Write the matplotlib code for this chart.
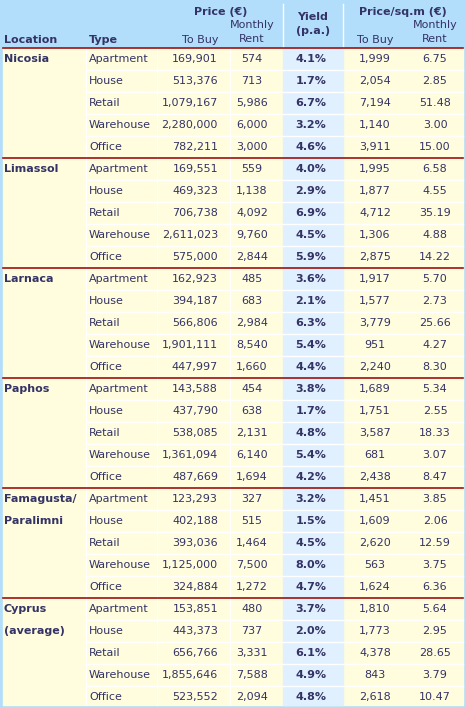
import matplotlib.pyplot as plt
from matplotlib.patches import Rectangle

locations = [["Nicosia"], ["Limassol"], ["Larnaca"], ["Paphos"],
             ["Famagusta/", "Paralimni"], ["Cyprus", "(average)"]]
types = ["Apartment", "House", "Retail", "Warehouse", "Office"]
buy = [[169901, 513376, 1079167, 2280000, 782211],
       [169551, 469323, 706738, 2611023, 575000],
       [162923, 394187, 566806, 1901111, 447997],
       [143588, 437790, 538085, 1361094, 487669],
       [123293, 402188, 393036, 1125000, 324884],
       [153851, 443373, 656766, 1855646, 523552]]
rent = [[574, 713, 5986, 6000, 3000],
        [559, 1138, 4092, 9760, 2844],
        [485, 683, 2984, 8540, 1660],
        [454, 638, 2131, 6140, 1694],
        [327, 515, 1464, 7500, 1272],
        [480, 737, 3331, 7588, 2094]]
yld = [[4.1, 1.7, 6.7, 3.2, 4.6],
       [4.0, 2.9, 6.9, 4.5, 5.9],
       [3.6, 2.1, 6.3, 5.4, 4.4],
       [3.8, 1.7, 4.8, 5.4, 4.2],
       [3.2, 1.5, 4.5, 8.0, 4.7],
       [3.7, 2.0, 6.1, 4.9, 4.8]]
sqm_buy = [[1999, 2054, 7194, 1140, 3911],
           [1995, 1877, 4712, 1306, 2875],
           [1917, 1577, 3779, 951, 2240],
           [1689, 1751, 3587, 681, 2438],
           [1451, 1609, 2620, 563, 1624],
           [1810, 1773, 4378, 843, 2618]]
sqm_rent = [[6.75, 2.85, 51.48, 3.00, 15.00],
            [6.58, 4.55, 35.19, 4.88, 14.22],
            [5.70, 2.73, 25.66, 4.27, 8.30],
            [5.34, 2.55, 18.33, 3.07, 8.47],
            [3.85, 2.06, 12.59, 3.75, 6.36],
            [5.64, 2.95, 28.65, 3.79, 10.47]]

W, H = 466, 708
TXT = "#333366"
BG = "#FFFDDE"
HEAD = "#B3DEFB"
YCOL = "#E1F0FE"
RED = "#A01010"
HH, RH = 48, 22
fs = 8

fig = plt.figure(figsize=(W / 100, H / 100), dpi=100)
ax = fig.add_axes([0, 0, 1, 1])
ax.set_xlim(0, W)
ax.set_ylim(H, 0)
ax.axis("off")

ax.add_patch(Rectangle((0, 0), W, H, color=HEAD))
ax.add_patch(Rectangle((3, HH), W - 6, H - HH - 3, color=BG))
ax.add_patch(Rectangle((283, HH), 60, H - HH - 3, color=YCOL))
ax.plot([283, 283], [4, HH], color="white", lw=1)
ax.plot([343, 343], [4, HH], color="white", lw=1)

# header
hb = dict(color=TXT, fontsize=fs, fontweight="bold")
hn = dict(color=TXT, fontsize=fs)
ax.text(4, 40, "Location", va="center", **hb)
ax.text(89, 40, "Type", va="center", **hb)
ax.text(221, 12, "Price (€)", ha="center", va="center", **hb)
ax.text(218, 40, "To Buy", ha="right", va="center", **hn)
ax.text(252, 25, "Monthly", ha="center", va="center", **hn)
ax.text(252, 39, "Rent", ha="center", va="center", **hn)
ax.text(313, 17, "Yield", ha="center", va="center", **hb)
ax.text(313, 31, "(p.a.)", ha="center", va="center", **hb)
ax.text(403, 12, "Price/sq.m (€)", ha="center", va="center", **hb)
ax.text(375, 40, "To Buy", ha="center", va="center", **hn)
ax.text(435, 25, "Monthly", ha="center", va="center", **hn)
ax.text(435, 39, "Rent", ha="center", va="center", **hn)

for g in range(len(locations)):
    top = HH + g * 5 * RH
    ax.plot([3, W - 3], [top, top], color=RED, lw=1.2, zorder=5)
    for k, line in enumerate(locations[g]):
        ax.text(4, top + RH / 2 + k * RH, line, va="center", **hb)
    for i in range(5):
        yc = top + RH / 2 + i * RH
        if i > 0:
            ax.plot([86, W - 3], [yc - RH / 2] * 2, color="white", lw=1)
        ax.text(89, yc, types[i], va="center", **hn)
        ax.text(218, yc, f"{buy[g][i]:,}", ha="right", va="center", **hn)
        ax.text(252, yc, f"{rent[g][i]:,}", ha="center", va="center", **hn)
        ax.text(311, yc, f"{yld[g][i]:.1f}%", ha="center", va="center", **hb)
        ax.text(375, yc, f"{sqm_buy[g][i]:,}", ha="center", va="center", **hn)
        ax.text(435, yc, f"{sqm_rent[g][i]:.2f}", ha="center", va="center", **hn)
for x in [86, 157, 230]:
    ax.plot([x, x], [HH, H - 3], color="white", lw=0.8)

fig.savefig("out.png", dpi=100)
